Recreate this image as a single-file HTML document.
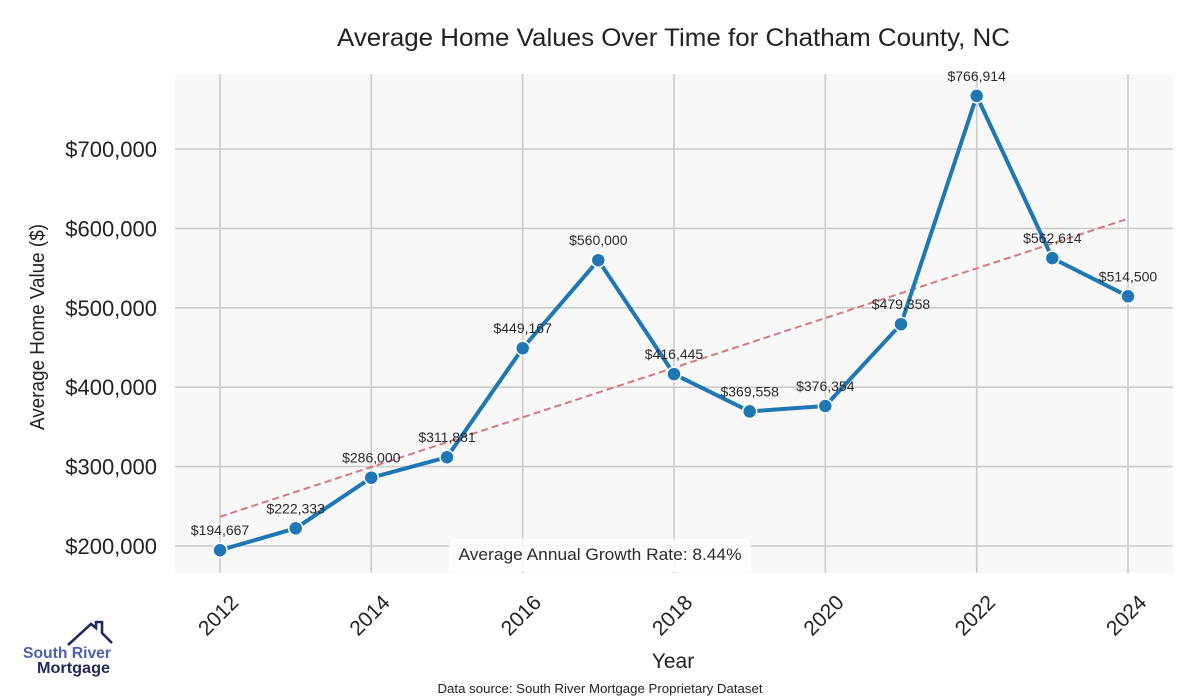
<!DOCTYPE html>
<html>
<head>
<meta charset="utf-8">
<style>
html,body{margin:0;padding:0;background:#fff;}
svg{display:block;}
text{font-family:"Liberation Sans", "DejaVu Sans", sans-serif;}
</style>
</head>
<body>
<svg width="1200" height="700" viewBox="0 0 1200 700" xmlns="http://www.w3.org/2000/svg">
  <rect x="0" y="0" width="1200" height="700" fill="#ffffff"/>
  <!-- plot area -->
  <rect x="175" y="74" width="998" height="499" fill="#f8f8f8"/>
  <!-- grid -->
  <g stroke="#cccccc" stroke-width="1.6">
    <line x1="220" y1="74" x2="220" y2="573"/>
    <line x1="371.3" y1="74" x2="371.3" y2="573"/>
    <line x1="522.7" y1="74" x2="522.7" y2="573"/>
    <line x1="674" y1="74" x2="674" y2="573"/>
    <line x1="825.3" y1="74" x2="825.3" y2="573"/>
    <line x1="976.7" y1="74" x2="976.7" y2="573"/>
    <line x1="1128" y1="74" x2="1128" y2="573"/>
    <line x1="175" y1="546" x2="1173" y2="546"/>
    <line x1="175" y1="466.6" x2="1173" y2="466.6"/>
    <line x1="175" y1="387.2" x2="1173" y2="387.2"/>
    <line x1="175" y1="307.8" x2="1173" y2="307.8"/>
    <line x1="175" y1="228.4" x2="1173" y2="228.4"/>
    <line x1="175" y1="149" x2="1173" y2="149"/>
  </g>
  <!-- trend line -->
  <line x1="220" y1="516.7" x2="1128" y2="218.7" stroke="#d47a7c" stroke-width="2" stroke-dasharray="7,4"/>
  <!-- data line -->
  <polyline fill="none" stroke="#1f77b4" stroke-width="4" stroke-linejoin="round"
    points="220,550.2 295.7,528.3 371.3,477.7 447,457.2 522.7,348.2 598.3,260.2 674,374.1 749.7,411.4 825.3,406 901,324.2 976.7,95.9 1052.3,258.1 1128,296.3"/>
  <g fill="#1f77b4" stroke="#ffffff" stroke-width="1.5">
    <circle cx="220" cy="550.2" r="7"/>
    <circle cx="295.7" cy="528.3" r="7"/>
    <circle cx="371.3" cy="477.7" r="7"/>
    <circle cx="447" cy="457.2" r="7"/>
    <circle cx="522.7" cy="348.2" r="7"/>
    <circle cx="598.3" cy="260.2" r="7"/>
    <circle cx="674" cy="374.1" r="7"/>
    <circle cx="749.7" cy="411.4" r="7"/>
    <circle cx="825.3" cy="406" r="7"/>
    <circle cx="901" cy="324.2" r="7"/>
    <circle cx="976.7" cy="95.9" r="7"/>
    <circle cx="1052.3" cy="258.1" r="7"/>
    <circle cx="1128" cy="296.3" r="7"/>
  </g>
  <!-- data labels -->
  <g font-size="14" fill="#2b2b2b" text-anchor="middle">
    <text x="220" y="535.2">$194,667</text>
    <text x="295.7" y="513.3">$222,333</text>
    <text x="371.3" y="462.7">$286,000</text>
    <text x="447" y="442.2">$311,881</text>
    <text x="522.7" y="333.2">$449,167</text>
    <text x="598.3" y="245.2">$560,000</text>
    <text x="674" y="359.1">$416,445</text>
    <text x="749.7" y="396.4">$369,558</text>
    <text x="825.3" y="391">$376,354</text>
    <text x="901" y="309.2">$479,358</text>
    <text x="976.7" y="80.9">$766,914</text>
    <text x="1052.3" y="243.1">$562,614</text>
    <text x="1128" y="281.3">$514,500</text>
  </g>
  <!-- growth box -->
  <rect x="449" y="539" width="302" height="33" rx="6" fill="#ffffff" fill-opacity="0.82"/>
  <text x="600" y="560" font-size="16.5" fill="#2b2b2b" text-anchor="middle" textLength="283" lengthAdjust="spacingAndGlyphs">Average Annual Growth Rate: 8.44%</text>
  <!-- y tick labels -->
  <g font-size="22" fill="#222" text-anchor="end">
    <text x="157" y="157">$700,000</text>
    <text x="157" y="236.4">$600,000</text>
    <text x="157" y="315.8">$500,000</text>
    <text x="157" y="395.2">$400,000</text>
    <text x="157" y="474.6">$300,000</text>
    <text x="157" y="554">$200,000</text>
  </g>
  <!-- x tick labels -->
  <g font-size="21" fill="#222" text-anchor="middle">
    <text transform="translate(218,615) rotate(-45)" y="7.5">2012</text>
    <text transform="translate(369.3,615) rotate(-45)" y="7.5">2014</text>
    <text transform="translate(520.7,615) rotate(-45)" y="7.5">2016</text>
    <text transform="translate(672,615) rotate(-45)" y="7.5">2018</text>
    <text transform="translate(823.3,615) rotate(-45)" y="7.5">2020</text>
    <text transform="translate(974.7,615) rotate(-45)" y="7.5">2022</text>
    <text transform="translate(1126,615) rotate(-45)" y="7.5">2024</text>
  </g>
  <!-- axis labels -->
  <text transform="translate(44,327) rotate(-90)" font-size="20" fill="#222" text-anchor="middle" textLength="206" lengthAdjust="spacingAndGlyphs">Average Home Value ($)</text>
  <text x="673" y="668" font-size="21" fill="#222" text-anchor="middle">Year</text>
  <!-- title -->
  <text x="673.5" y="46" font-size="25" fill="#222" text-anchor="middle" textLength="673" lengthAdjust="spacingAndGlyphs">Average Home Values Over Time for Chatham County, NC</text>
  <!-- source -->
  <text x="600" y="693" font-size="13" fill="#222" text-anchor="middle" textLength="325" lengthAdjust="spacingAndGlyphs">Data source: South River Mortgage Proprietary Dataset</text>
  <!-- logo -->
  <path d="M68,645 L91,624 L96,628 L96,622 L102,622 L102,633 L112,643" fill="none" stroke="#222a5c" stroke-width="2.6" stroke-linejoin="miter"/>
  <text x="23" y="658" font-size="16" font-weight="bold" fill="#4a5fb5" textLength="88" lengthAdjust="spacingAndGlyphs">South River</text>
  <text x="37" y="673" font-size="16" font-weight="bold" fill="#222a5c" textLength="73" lengthAdjust="spacingAndGlyphs">Mortgage</text>
</svg>
</body>
</html>
